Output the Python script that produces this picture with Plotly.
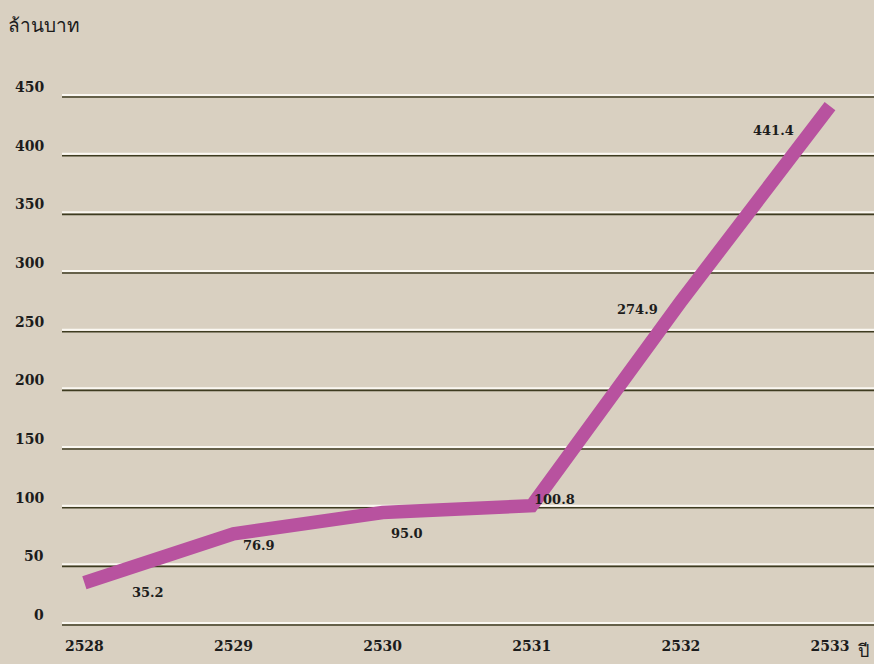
import plotly.graph_objects as go

years = [2528, 2529, 2530, 2531, 2532, 2533]
values = [35.2, 76.9, 95.0, 100.8, 274.9, 441.4]
value_labels = ["35.2", "76.9", "95.0", "100.8", "274.9", "441.4"]
y_ticks = [0, 50, 100, 150, 200, 250, 300, 350, 400, 450]
x_tick_labels = ["2528", "2529", "2530", "2531", "2532", "2533"]

# label offsets (pixels) relative to each point
label_shift = [(64, -10), (25, -12), (24, -21), (23, 6), (-43, -8), (-57, -24)]

bg = '#D9D0C1'
ink = '#1c1c1c'
num_font = dict(family="DejaVu Serif", size=14, color=ink, weight='bold')

fig = go.Figure()
fig.add_trace(go.Scatter(
    x=years, y=values,
    mode='lines',
    line=dict(color='#B8529F', width=13.5),
    hoverinfo='skip',
    showlegend=False
))

# gridlines: white highlight with dark shadow under it
shapes = []
for v in y_ticks:
    shapes.append(dict(type='line', xref='paper', x0=0, x1=1,
                       yref='y', ysizemode='pixel', yanchor=v, y0=1, y1=1,
                       line=dict(color='#FBF8F2', width=2), layer='below'))
    shapes.append(dict(type='line', xref='paper', x0=0, x1=1,
                       yref='y', ysizemode='pixel', yanchor=v, y0=-1, y1=-1,
                       line=dict(color='#3E3B20', width=1.6), layer='below'))

annotations = []
for x, y, t, (dx, dy) in zip(years, values, value_labels, label_shift):
    annotations.append(dict(x=x, y=y, text=t, showarrow=False,
                            xshift=dx, yshift=dy,
                            font=dict(family="DejaVu Serif", size=13, color=ink, weight='bold')))
for v in y_ticks:
    annotations.append(dict(x=0, xref='paper', y=v, text=str(v), showarrow=False,
                            xanchor='right', xshift=-16, yshift=9, font=num_font))
annotations.append(dict(x=0, xref='paper', xanchor='left', xshift=-56,
                        y=1, yref='paper', yanchor='bottom', yshift=20,
                        text='ล้านบาท', showarrow=False,
                        font=dict(family="Noto Sans, DejaVu Sans", size=19, color=ink)))
annotations.append(dict(x=1, xref='paper', xanchor='right', xshift=-3,
                        y=0, yref='paper', yanchor='bottom', yshift=-28,
                        text='ปี', showarrow=False,
                        font=dict(family="Noto Sans, DejaVu Sans", size=18, color=ink)))

fig.update_layout(
    width=874, height=664,
    paper_bgcolor=bg, plot_bgcolor=bg,
    margin=dict(l=62, r=0, t=60, b=28),
    shapes=shapes,
    annotations=annotations,
    xaxis=dict(range=[2527.85, 2533.295], tickvals=years, ticktext=x_tick_labels,
               showgrid=False, zeroline=False, showline=False, ticks='',
               tickfont=num_font),
    yaxis=dict(range=[-10.2, 480.7], showgrid=False, zeroline=False,
               showticklabels=False, showline=False, ticks=''),
)

fig.write_html("out.html", config=dict(displayModeBar=False),
               post_script="document.body.style.margin='0';")
